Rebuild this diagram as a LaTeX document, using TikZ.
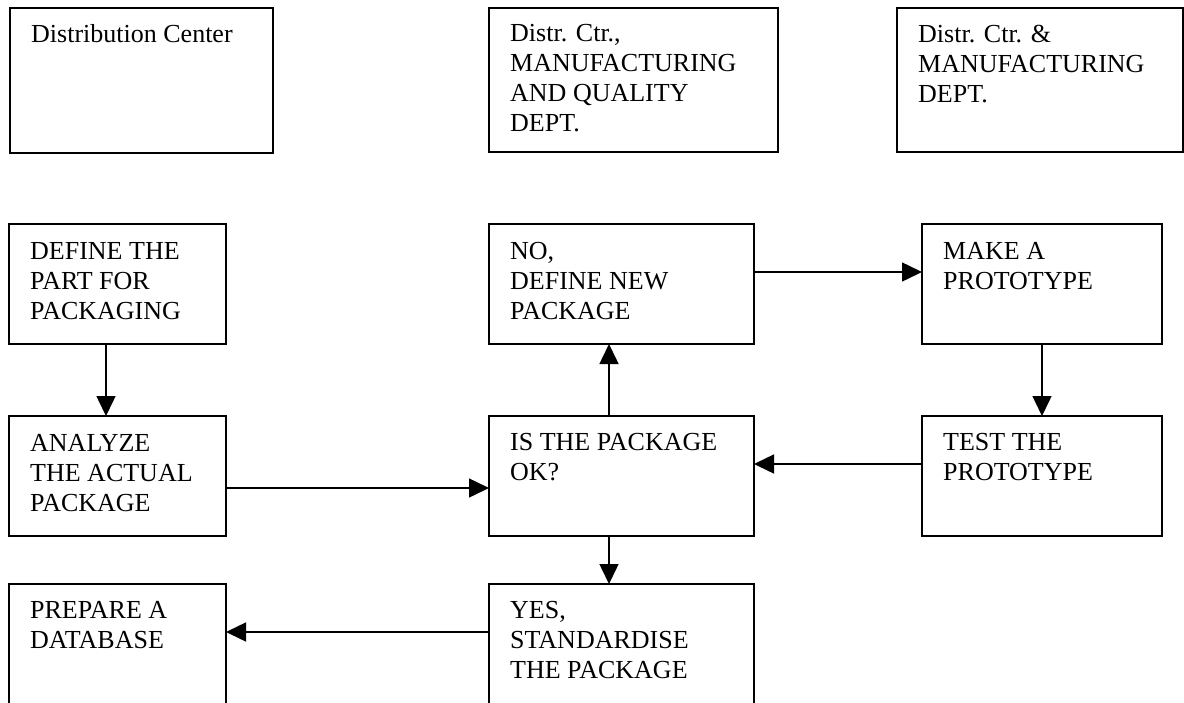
\documentclass[tikz,border=0pt]{standalone}
\usepackage{fontspec}
\setmainfont{Liberation Serif}
\usetikzlibrary{arrows.meta}
\begin{document}
\begin{tikzpicture}[x=1pt,y=-1pt,
  box/.style={draw, line width=1.5pt, rectangle, anchor=north west, inner sep=0pt, outer sep=0pt},
  lbl/.style={anchor=north west, align=left, inner sep=0pt, font=\fontsize{26}{30}\selectfont},
  arr/.style={line width=1.5pt, -{Triangle[length=20pt,width=19pt]}}]
\useasboundingbox (0,0) rectangle (1184,702);
% top row
\node[box, minimum width=263pt, minimum height=145pt] (dc) at (10,8) {};
\node[box, minimum width=289pt, minimum height=144pt] (dmq) at (489,8) {};
\node[box, minimum width=286pt, minimum height=144pt] (dm) at (897,8) {};
% second row
\node[box, minimum width=217pt, minimum height=120pt] (def) at (9,224) {};
\node[box, minimum width=265pt, minimum height=120pt] (no) at (489,224) {};
\node[box, minimum width=240pt, minimum height=120pt] (make) at (922,224) {};
% third row
\node[box, minimum width=217pt, minimum height=120pt] (ana) at (9,416) {};
\node[box, minimum width=265pt, minimum height=120pt] (is) at (489,416) {};
\node[box, minimum width=240pt, minimum height=120pt] (test) at (922,416) {};
% fourth row
\node[box, minimum width=217pt, minimum height=140pt] (prep) at (9,584) {};
\node[box, minimum width=265pt, minimum height=140pt] (yes) at (489,584) {};
% labels
\node[lbl] (dct) at ([shift={(21,13.5)}]dc.north west) {\strut Distribution Center};
\node[lbl] (dmqt) at ([shift={(21,12.5)}]dmq.north west) {\strut Distr. Ctr.,\\MANUFACTURING\\AND QUALITY\\DEPT.};
\node[lbl] (dmt) at ([shift={(21,13.5)}]dm.north west) {\strut Distr. Ctr. \&\\MANUFACTURING\\DEPT.};
\node[lbl] (deft) at ([shift={(21,14)}]def.north west) {\strut DEFINE THE\\PART FOR\\PACKAGING};
\node[lbl] (not) at ([shift={(21,14)}]no.north west) {\strut NO,\\DEFINE NEW\\PACKAGE};
\node[lbl] (maket) at ([shift={(21,14)}]make.north west) {\strut MAKE A\\PROTOTYPE};
\node[lbl] (anat) at ([shift={(21,14)}]ana.north west) {\strut ANALYZE\\THE ACTUAL\\PACKAGE};
\node[lbl] (ist) at ([shift={(21,13.5)}]is.north west) {\strut IS THE PACKAGE\\OK?};
\node[lbl] (testt) at ([shift={(21,13.5)}]test.north west) {\strut TEST THE\\PROTOTYPE};
\node[lbl] (prept) at ([shift={(21,13.5)}]prep.north west) {\strut PREPARE A\\DATABASE};
\node[lbl] (yest) at ([shift={(21,13.5)}]yes.north west) {\strut YES,\\STANDARDISE\\THE PACKAGE};
% connector guide coordinates
\coordinate (xa) at (106,0);
\coordinate (yb) at (0,488);
\coordinate (xc) at (609,0);
\coordinate (yd) at (0,272);
\coordinate (ye) at (0,464);
\coordinate (yg) at (0,632);
% connectors
\draw[arr] (def.south -| xa) -- (ana.north -| xa);
\draw[arr] (ana.east |- yb) -- (is.west |- yb);
\draw[arr] (is.north -| xc) -- (no.south -| xc);
\draw[arr] (no.east |- yd) -- (make.west |- yd);
\draw[arr] (make.south) -- (test.north);
\draw[arr] (test.west |- ye) -- (is.east |- ye);
\draw[arr] (is.south -| xc) -- (yes.north -| xc);
\draw[arr] (yes.west |- yg) -- (prep.east |- yg);
\end{tikzpicture}
\end{document}
